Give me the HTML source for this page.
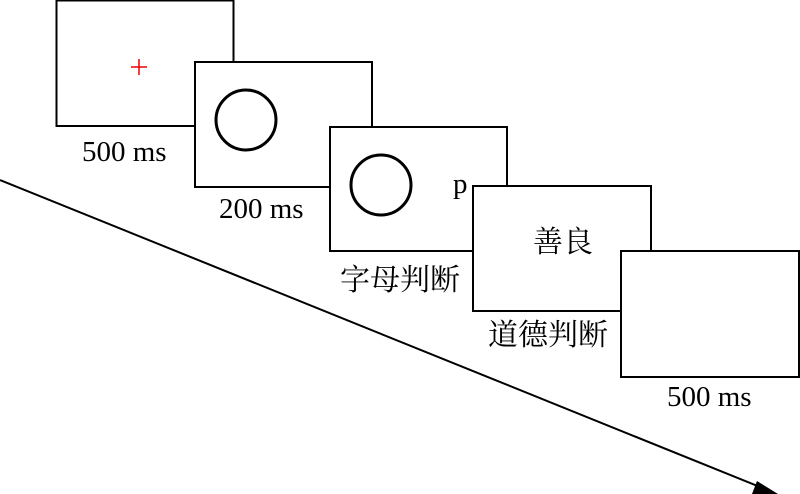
<!DOCTYPE html>
<html><head><meta charset="utf-8"><style>
html,body{margin:0;padding:0;background:#fff;}
svg{display:block;}
text{font-family:"Liberation Serif","Noto Serif CJK SC",serif;font-size:29px;fill:#000;}
.c{font-size:30px;}
</style></head><body>
<svg width="800" height="494" viewBox="0 0 800 494" xmlns="http://www.w3.org/2000/svg">
<g fill="#fff" stroke="#000" stroke-width="2">
<rect x="56.5" y="0.5" width="177" height="125.5"/>
<rect x="195" y="62" width="177" height="125"/>
<rect x="330" y="127" width="177" height="124"/>
<rect x="473" y="186" width="178" height="125"/>
<rect x="621" y="251" width="178" height="126"/>
</g>
<g stroke="#000" stroke-width="3" fill="none">
<circle cx="246" cy="120" r="30"/>
<circle cx="381" cy="185" r="30"/>
</g>
<g stroke="#e00" stroke-width="1.5">
<line x1="131" y1="67" x2="147" y2="67"/><line x1="139" y1="59" x2="139" y2="75"/>
</g>
<line x1="0" y1="180" x2="765" y2="489" stroke="#000" stroke-width="2"/>
<polygon points="778,494 752,494 757,481" fill="#000"/>
<text x="82" y="161">500 ms</text>
<text x="219" y="218">200 ms</text>
<text x="453" y="193">p</text>
<text class="c" x="340" y="290">字母判断</text>
<text class="c" x="533" y="252">善良</text>
<text class="c" x="488" y="345">道德判断</text>
<text x="667" y="406">500 ms</text>
</svg>
</body></html>
